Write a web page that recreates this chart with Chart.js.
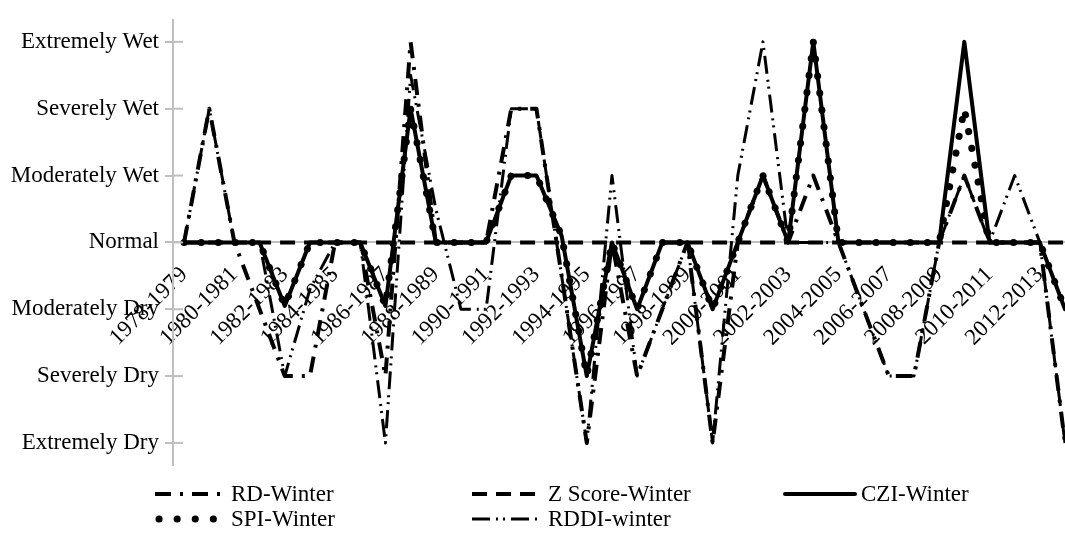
<!DOCTYPE html>
<html>
<head>
<meta charset="utf-8">
<script src="https://cdn.jsdelivr.net/npm/chart.js@4.4.1/dist/chart.umd.min.js"></script>
<style>
    html, body { margin:0; padding:0; background:#fff; }
    #wrap { width:1065px; height:535px; position:relative; }
</style>
</head>
<body>
<div id="wrap"><canvas id="chart"></canvas></div>
<script>
// ── Data ──────────────────────────────────────────────────────────────
const seasons = [
    '1978-1979','1979-1980','1980-1981','1981-1982','1982-1983','1983-1984',
    '1984-1985','1985-1986','1986-1987','1987-1988','1988-1989','1989-1990',
    '1990-1991','1991-1992','1992-1993','1993-1994','1994-1995','1995-1996',
    '1996-1997','1997-1998','1998-1999','1999-2000','2000-2001','2001-2002',
    '2002-2003','2003-2004','2004-2005','2005-2006','2006-2007','2007-2008',
    '2008-2009','2009-2010','2010-2011','2011-2012','2012-2013','2013-2014'
];

const classLabels = ['Extremely Dry','Severely Dry','Moderately Dry','Normal','Moderately Wet','Severely Wet','Extremely Wet'];

const rdWinter   = [0, 2, 0, -1, -2, -2, 0, 0, -2, 3, 0, 0, 0, 2, 2, -0.5, -3, 0, -2, -1, 0, -3, 0, 1, 0, 1, 0, -1, -2, -2, 0, 1, 0, 0, 0, -3];
const zScore     = [0, 0, 0, 0, 0, 0, 0, 0, 0, 0, 0, 0, 0, 0, 0, 0, 0, 0, 0, 0, 0, 0, 0, 0, 0, 0, 0, 0, 0, 0, 0, 0, 0, 0, 0, 0];
const cziWinter  = [0, 0, 0, 0, -0.95, 0, 0, 0, -0.95, 2, 0, 0, 0, 1, 1, 0.1, -2, 0, -1, 0, 0, -1, 0, 1, 0, 3, 0, 0, 0, 0, 0, 3, 0, 0, 0, -1];
const spiWinter  = [0, 0, 0, 0, -0.95, 0, 0, 0, -0.95, 2, 0, 0, 0, 1, 1, 0.1, -2, 0, -1, 0, 0, -1, 0, 1, 0, 3, 0, 0, 0, 0, 0, 2, 0, 0, 0, -1];
const rddiWinter = [0, 2, 0, 0, -2, -0.7, 0, 0, -3, 2.5, 0.5, -1, -1, 2, 2, -0.5, -3, 1, -2, -1, 0, -3, 1, 3, 0, 0, 0, -1, -2, -2, 0, 1, 0, 1, 0, -3];

const AXIS_GREY = '#bfbfbf';
const FONT      = { family:'"Liberation Serif", "Times New Roman", serif', size:23 };

const toPoints = arr => arr.map((v, i) => ({ x:i, y:v }));

const series = [
    { label:'RD-Winter',      data:rdWinter,   width:4, dash:[16, 9, 3, 9],          cap:'butt'  },
    { label:'Z Score-Winter', data:zScore,     width:4, dash:[15, 9],                cap:'butt'  },
    { label:'CZI-Winter',     data:cziWinter,  width:4, dash:[],                     cap:'round' },
    { label:'SPI-Winter',     data:spiWinter,  width:7, dash:[0.1, 17],              cap:'round' },
    { label:'RDDI-winter',    data:rddiWinter, width:3, dash:[18, 6, 2, 5, 2, 6],    cap:'butt'  },
];

// ── Plugins ───────────────────────────────────────────────────────────
// y-axis ticks in the source cross the axis line
const crossTicks = {
    id:'crossTicks',
    afterDraw(chart) {
        const y   = chart.scales.y;
        const ctx = chart.ctx;
        ctx.save();
        ctx.strokeStyle = AXIS_GREY;
        ctx.lineWidth   = 2;
        y.ticks.forEach(t => {
            const py = y.getPixelForValue(t.value);
            ctx.beginPath();
            ctx.moveTo(chart.chartArea.left, py);
            ctx.lineTo(chart.chartArea.left + 10, py);
            ctx.stroke();
        });
        ctx.restore();
    }
};

// legend laid out in a fixed 3-column grid under the plot
const gridLegend = {
    id:'gridLegend',
    afterDraw(chart) {
        const ctx  = chart.ctx;
        const cols = [155, 472, 785];
        const rows = [494, 519];
        ctx.save();
        ctx.font = `${FONT.size}px ${FONT.family}`;
        ctx.textBaseline = 'middle';
        ctx.fillStyle = '#000';
        chart.data.datasets.forEach((ds, i) => {
            const x = cols[i % 3], y = rows[Math.floor(i / 3)];
            const dotted = ds.label === 'SPI-Winter';
            ctx.strokeStyle = '#000';
            ctx.lineWidth   = ds.borderWidth;
            ctx.lineCap     = ds.borderCapStyle;
            ctx.setLineDash(dotted ? [0.1, 18] : ds.borderDash);
            ctx.beginPath();
            ctx.moveTo(x + (dotted ? 4 : 0), y);
            ctx.lineTo(x + 70, y);
            ctx.stroke();
            ctx.setLineDash([]);
            ctx.fillText(ds.label, x + 76, y + 1);
        });
        ctx.restore();
    }
};

// ── Chart ─────────────────────────────────────────────────────────────
new Chart(document.getElementById('chart'), {
    type:'line',
    data:{
        datasets: series.map(s => ({
            label: s.label,
            data: toPoints(s.data),
            borderColor:'#000',
            backgroundColor:'#000',
            borderWidth: s.width,
            borderDash: s.dash,
            borderCapStyle: s.cap,
            borderJoinStyle:'round',
            pointRadius:0,
            tension:0,
            fill:false,
        }))
    },
    options:{
        responsive:true,
        maintainAspectRatio:false,
        animation:false,
        layout:{ padding:{ top:15, bottom:70, left:0, right:0 } },
        plugins:{ legend:{ display:false }, tooltip:{ enabled:false } },
        scales:{
            x:{
                type:'linear',
                position:{ y:0 },
                min:-0.44,
                max:35,
                afterBuildTicks: s => { s.ticks = seasons.map((_, i) => ({ value:i })).filter(t => t.value % 2 === 0); },
                afterFit: s => { s.paddingLeft = 0; s.paddingRight = 0; },
                grid:{ display:false, drawTicks:false },
                border:{ display:true, color:AXIS_GREY, width:2 },
                ticks:{
                    autoSkip:false,
                    minRotation:45,
                    maxRotation:45,
                    padding:19,
                    color:'#000',
                    font:FONT,
                    callback: v => seasons[v] ?? ''
                }
            },
            y:{
                min:-3.33,
                max:3.33,
                afterFit: s => { s.width = 173; },
                afterBuildTicks: s => { s.ticks = classLabels.map((_, i) => ({ value:i - 3 })); },
                grid:{ drawOnChartArea:false, drawTicks:true, tickLength:8, color:AXIS_GREY, lineWidth:2 },
                border:{ display:true, color:AXIS_GREY, width:2 },
                ticks:{
                    padding:6,
                    color:'#000',
                    font:FONT,
                    callback: v => classLabels[v + 3] ?? ''
                }
            }
        }
    },
    plugins:[crossTicks, gridLegend]
});
</script>
</body>
</html>
